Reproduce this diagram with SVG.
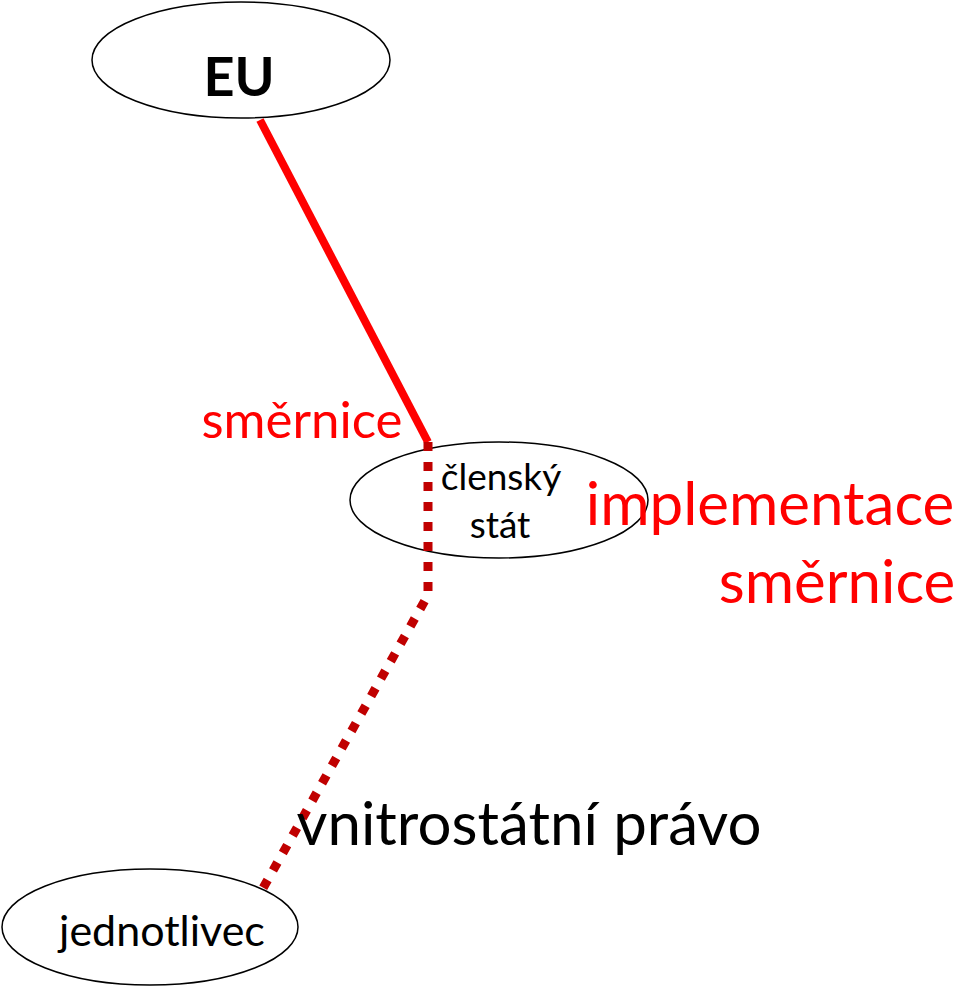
<svg xmlns="http://www.w3.org/2000/svg" width="960" height="990" viewBox="0 0 960 990">
<style>
.node{fill:#fff;stroke:#000;stroke-width:1.5}
text{font-family:Lato,"Liberation Sans",sans-serif}
.blk{fill:#000}
.red{fill:#ff0000}
.solid{stroke:#ff0000;stroke-width:8;fill:none}
.dot{stroke:#c00000;stroke-width:9;fill:none;stroke-dasharray:9 11}
</style>
<rect width="960" height="990" fill="#fff"/>
<g id="eu"><ellipse class="node" cx="241" cy="60" rx="149" ry="58"/><text class="blk" x="239" y="96" font-size="54" font-weight="bold" text-anchor="middle">EU</text></g>
<g id="clensky-stat"><ellipse class="node" cx="499" cy="500" rx="149" ry="58"/><text class="blk" x="501" y="490" font-size="37" text-anchor="middle">členský</text><text class="blk" x="500" y="538" font-size="37" text-anchor="middle">stát</text></g>
<g id="jednotlivec"><ellipse class="node" cx="150" cy="927" rx="148" ry="58"/><text class="blk" x="162" y="946" font-size="43" text-anchor="middle">jednotlivec</text></g>
<g id="connectors">
<path class="solid" d="M260 120 L428 442"/>
<path class="dot" d="M428 442 L428 595 L262 890"/>
</g>
<g id="labels">
<text class="red" x="302" y="438" font-size="51" text-anchor="middle">směrnice</text>
<text class="red" x="770" y="525" font-size="60" text-anchor="middle">implementace</text>
<text class="red" x="837" y="603" font-size="60" text-anchor="middle">směrnice</text>
<text class="blk" x="529" y="845" font-size="60" text-anchor="middle">vnitrostátní právo</text>
</g>
</svg>
